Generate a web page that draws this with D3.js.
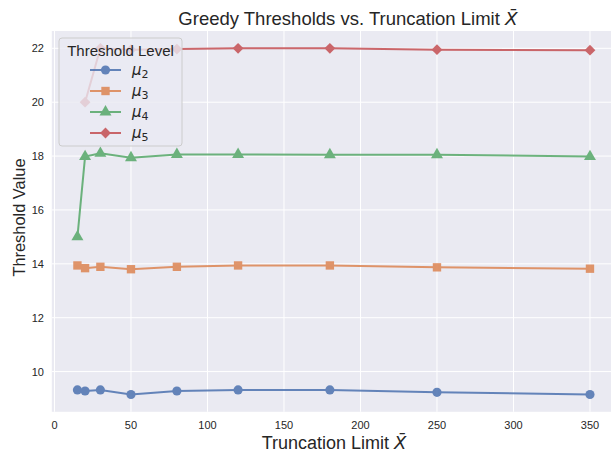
<!DOCTYPE html>
<html>
<head>
<meta charset="utf-8">
<script src="https://cdn.jsdelivr.net/npm/d3@7.9.0/dist/d3.min.js"></script>
<style>
  html, body { margin: 0; padding: 0; background: #fff; }
  svg { display: block; font-family: "Liberation Sans", Arial, sans-serif; }
</style>
</head>
<body>
<svg id="chart" width="611" height="455"></svg>
<script>
// data
const limits = [15, 20, 30, 50, 80, 120, 180, 250, 350];
const mu2 = [9.32, 9.28, 9.32, 9.15, 9.28, 9.32, 9.32, 9.23, 9.15];
const mu3 = [13.94, 13.84, 13.89, 13.80, 13.89, 13.94, 13.94, 13.87, 13.82];
const mu4 = [15.0, 17.98, 18.1, 17.94, 18.06, 18.06, 18.05, 18.05, 17.98];
const mu5 = [null, 20.0, 22.0, 21.95, 21.97, 22.0, 22.0, 21.95, 21.93];
const xTicks = [0, 50, 100, 150, 200, 250, 300, 350];
const yTicks = [10, 12, 14, 16, 18, 20, 22];

// matplotlib-ish markers: 'D' is a square turned 45 degrees
const series = [
  { sub: '2', values: mu2, color: '#4C72B0', shape: d3.symbolCircle, size: 66, rot: 0 },
  { sub: '3', values: mu3, color: '#DD8452', shape: d3.symbolSquare, size: 70, rot: 0 },
  { sub: '4', values: mu4, color: '#55A868', shape: d3.symbolTriangle, size: 62, rot: 0 },
  { sub: '5', values: mu5, color: '#C44E52', shape: d3.symbolSquare, size: 58, rot: 45 }
];

const svg = d3.select('#chart');
const panel = { left: 51.8, right: 615.6, top: 31, bottom: 411.8 };

// 5% margins like matplotlib autoscale
const xPad = (350 - 15) * 0.05;
const x = d3.scaleLinear().domain([15 - xPad, 350 + xPad]).range([panel.left, panel.right]);
const yPad = (22.0 - 9.15) * 0.05;
const y = d3.scaleLinear().domain([9.15 - yPad, 22.0 + yPad]).range([panel.bottom, panel.top]);

svg.append('rect')
  .attr('x', panel.left).attr('y', panel.top)
  .attr('width', panel.right - panel.left).attr('height', panel.bottom - panel.top)
  .attr('fill', '#EAEAF2');

// grid
svg.append('g').selectAll('line').data(xTicks).join('line')
  .attr('x1', d => x(d)).attr('x2', d => x(d))
  .attr('y1', panel.top).attr('y2', panel.bottom)
  .attr('stroke', '#fff').attr('stroke-width', 1);
svg.append('g').selectAll('line').data(yTicks).join('line')
  .attr('x1', panel.left).attr('x2', panel.right)
  .attr('y1', d => y(d)).attr('y2', d => y(d))
  .attr('stroke', '#fff').attr('stroke-width', 1);

// tick labels
svg.append('g').selectAll('text').data(xTicks).join('text')
  .attr('x', d => x(d)).attr('y', 429)
  .attr('text-anchor', 'middle').attr('font-size', 11).attr('fill', '#262626')
  .text(d => d);
svg.append('g').selectAll('text').data(yTicks).join('text')
  .attr('x', 44).attr('y', d => y(d) + 4)
  .attr('text-anchor', 'end').attr('font-size', 11).attr('fill', '#262626')
  .text(d => d);

// series
const line = d3.line()
  .defined(d => d[1] != null)
  .x(d => x(d[0])).y(d => y(d[1]));

series.forEach(s => {
  const pts = limits.map((l, i) => [l, s.values[i]]).filter(d => d[1] != null);
  const g = svg.append('g').attr('opacity', 0.85);
  g.append('path')
    .attr('d', line(pts))
    .attr('fill', 'none').attr('stroke', s.color).attr('stroke-width', 2);
  g.selectAll('path.m').data(pts).join('path')
    .attr('class', 'm')
    .attr('transform', d => `translate(${x(d[0])},${y(d[1])}) rotate(${s.rot})`)
    .attr('d', d3.symbol().type(s.shape).size(s.size))
    .attr('fill', s.color);
});

// titles
const title = svg.append('text')
  .attr('x', 348).attr('y', 25).attr('text-anchor', 'middle')
  .attr('font-size', 18.5).attr('fill', '#262626');
title.append('tspan').text('Greedy Thresholds vs. Truncation Limit ');
title.append('tspan').attr('font-family', 'DejaVu Sans').attr('font-style', 'italic').text('X\u0304');

const xl = svg.append('text')
  .attr('x', 334).attr('y', 449).attr('text-anchor', 'middle')
  .attr('font-size', 18).attr('fill', '#262626');
xl.append('tspan').text('Truncation Limit ');
xl.append('tspan').attr('font-family', 'DejaVu Sans').attr('font-style', 'italic').text('X\u0304');

svg.append('text')
  .attr('transform', `translate(25,217.5) rotate(-90)`)
  .attr('text-anchor', 'middle')
  .attr('font-size', 16.4).attr('fill', '#262626')
  .text('Threshold Value');

// legend
const lg = svg.append('g').attr('transform', 'translate(59,38)');
lg.append('rect')
  .attr('width', 123).attr('height', 108).attr('rx', 3)
  .attr('fill', '#EAEAF2').attr('fill-opacity', 0.8)
  .attr('stroke', '#cccccc').attr('stroke-width', 1);
lg.append('text')
  .attr('x', 61.5).attr('y', 17.5).attr('text-anchor', 'middle')
  .attr('font-size', 15).attr('fill', '#262626')
  .text('Threshold Level');
series.forEach((s, i) => {
  const ry = 32 + i * 21;
  const row = lg.append('g').attr('transform', `translate(0,${ry})`);
  const rg = row.append('g').attr('opacity', 0.85);
  rg.append('line')
    .attr('x1', 31).attr('x2', 62).attr('stroke', s.color).attr('stroke-width', 2);
  rg.append('path')
    .attr('transform', `translate(46.5,0) rotate(${s.rot})`)
    .attr('d', d3.symbol().type(s.shape).size(s.size))
    .attr('fill', s.color);
  const t = row.append('text')
    .attr('x', 73).attr('y', 5)
    .attr('font-size', 15).attr('fill', '#262626')
    .attr('font-family', 'DejaVu Sans');
  t.append('tspan').attr('font-style', 'italic').text('\u03bc');
  t.append('tspan').attr('font-size', 11).attr('dy', 3).text(s.sub);
});
</script>
</body>
</html>
